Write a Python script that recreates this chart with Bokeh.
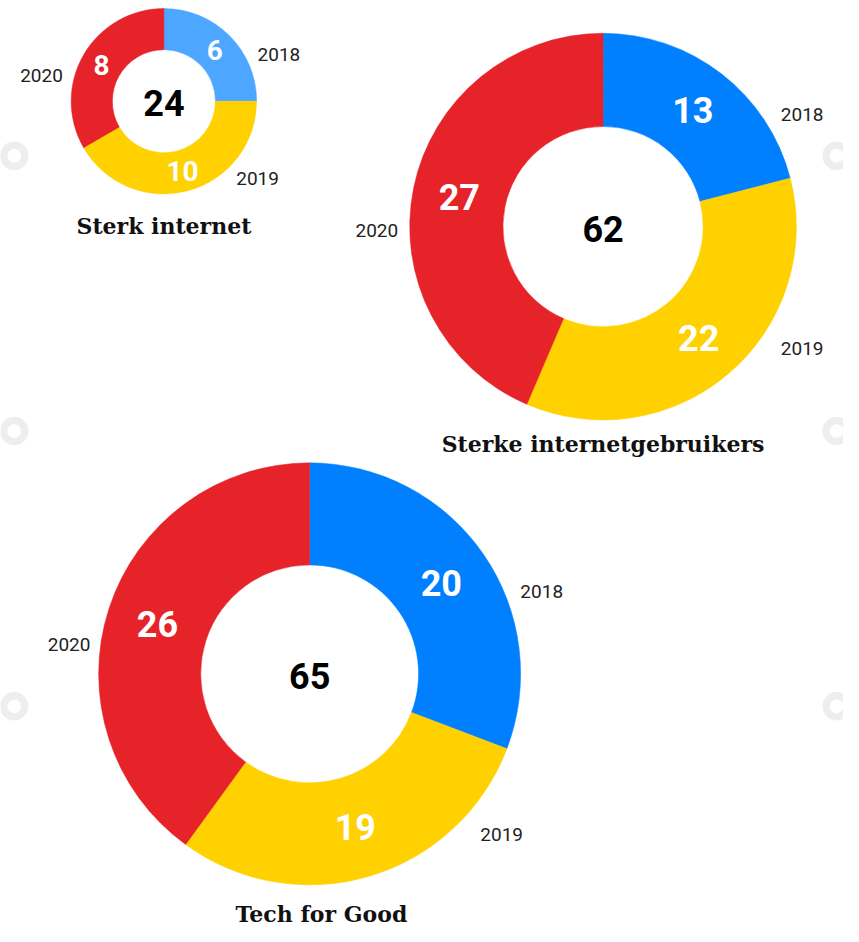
import math
from bokeh.plotting import figure
from bokeh.models import Range1d, ColumnDataSource
from bokeh.core.properties import value
from bokeh.embed import file_html
from bokeh.resources import INLINE

# ---------------- data ----------------
YEARS = ["2018", "2019", "2020"]
TITLES = ["Sterk internet", "Sterke internetgebruikers", "Tech for Good"]
sterk_internet = [6, 10, 8]
sterke_internetgebruikers = [13, 22, 27]
tech_for_good = [20, 19, 26]
SERIES = [sterk_internet, sterke_internetgebruikers, tech_for_good]

# ---------------- layout / style ----------------
W, H = 843, 926          # figure size in screen pixels
VW, VH = 859, 942        # design canvas (data units)
CENTERS = [(166.5, 102.5), (614, 230), (315, 685)]
OUTER = [94.5, 197, 215]
INNER = [52.5, 102, 111]
BLUES = ["#4da6ff", "#0080ff", "#0080ff"]
YELLOW = "#ffd100"
RED = "#e52329"
VALUE_SIZE = ["28px", "36px", "36px"]
CENTER_SIZE = ["36px", "36px", "36px"]
TITLE_Y = [229, 451, 929]
TITLE_X = [166.5, 614, 327]
# year label offsets, in units of the outer radius
YEAR_OFFSETS = [
    [(1.24, -0.50), (1.01, 0.83), (-1.32, -0.28)],
    [(1.03, -0.58), (1.03, 0.63), (-1.17, 0.02)],
    [(1.10, -0.39), (0.91, 0.76), (-1.14, -0.14)],
]
RING_X = [14, 852]
RING_Y = [158, 438, 718]


def py(y):
    return VH - y


p = figure(width=W, height=H, x_range=Range1d(0, VW), y_range=Range1d(0, VH),
           output_backend="svg", toolbar_location=None, min_border=0)
p.axis.visible = False
p.grid.visible = False
p.outline_line_color = None
p.background_fill_color = "white"

# decorative grey rings at the edges
rx, ry = [], []
for yy in RING_Y:
    for xx in RING_X:
        rx.append(xx)
        ry.append(py(yy))
p.annulus(x=rx, y=ry, inner_radius=7, outer_radius=14.5, fill_color="#eeeeee",
          line_color=None)

for i, vals in enumerate(SERIES):
    cx, cy = CENTERS[i]
    R, r = OUTER[i], INNER[i]
    total = sum(vals)
    colors = [BLUES[i], YELLOW, RED]
    starts, ends, mids = [], [], []
    cum = 0
    for v in vals:
        f0 = cum / total
        cum += v
        f1 = cum / total
        starts.append(math.pi / 2 - f0 * 2 * math.pi)
        ends.append(math.pi / 2 - f1 * 2 * math.pi)
        mids.append((f0 + f1) / 2 * 2 * math.pi)
    src = ColumnDataSource(dict(
        x=[cx] * 3, y=[py(cy)] * 3, s=starts, e=ends, c=colors))
    p.annular_wedge(x="x", y="y", inner_radius=r, outer_radius=R,
                    start_angle="s", end_angle="e", direction="clock",
                    fill_color="c", line_color="c", line_width=0.5, source=src)

    # value labels
    rm = (R + r) / 2
    vx = [cx + rm * math.sin(m) for m in mids]
    vy = [py(cy - rm * math.cos(m)) for m in mids]
    p.text(x=vx, y=vy, text=[str(v) for v in vals], text_color="white",
           text_font=value("Roboto"), text_font_style="bold",
           text_font_size=VALUE_SIZE[i], text_align="center",
           text_baseline="middle")

    # centre total
    p.text(x=[cx], y=[py(cy + 2)], text=[str(total)], text_color="black",
           text_font=value("Roboto"), text_font_style="bold",
           text_font_size=CENTER_SIZE[i], text_align="center",
           text_baseline="middle")

    # year labels
    yx = [cx + dx * R for dx, dy in YEAR_OFFSETS[i]]
    yy_ = [py(cy + dy * R) for dx, dy in YEAR_OFFSETS[i]]
    p.text(x=yx, y=yy_, text=YEARS, text_color="#222222",
           text_font=value("Roboto"), text_font_size="19px",
           text_align="center", text_baseline="middle")

    # title
    p.text(x=[TITLE_X[i]], y=[py(TITLE_Y[i])], text=[TITLES[i]],
           text_color="#111111", text_font=value("DejaVu Serif"),
           text_font_style="bold", text_font_size="22px",
           text_align="center", text_baseline="middle")

open("out.html", "w").write(file_html(p, INLINE))
